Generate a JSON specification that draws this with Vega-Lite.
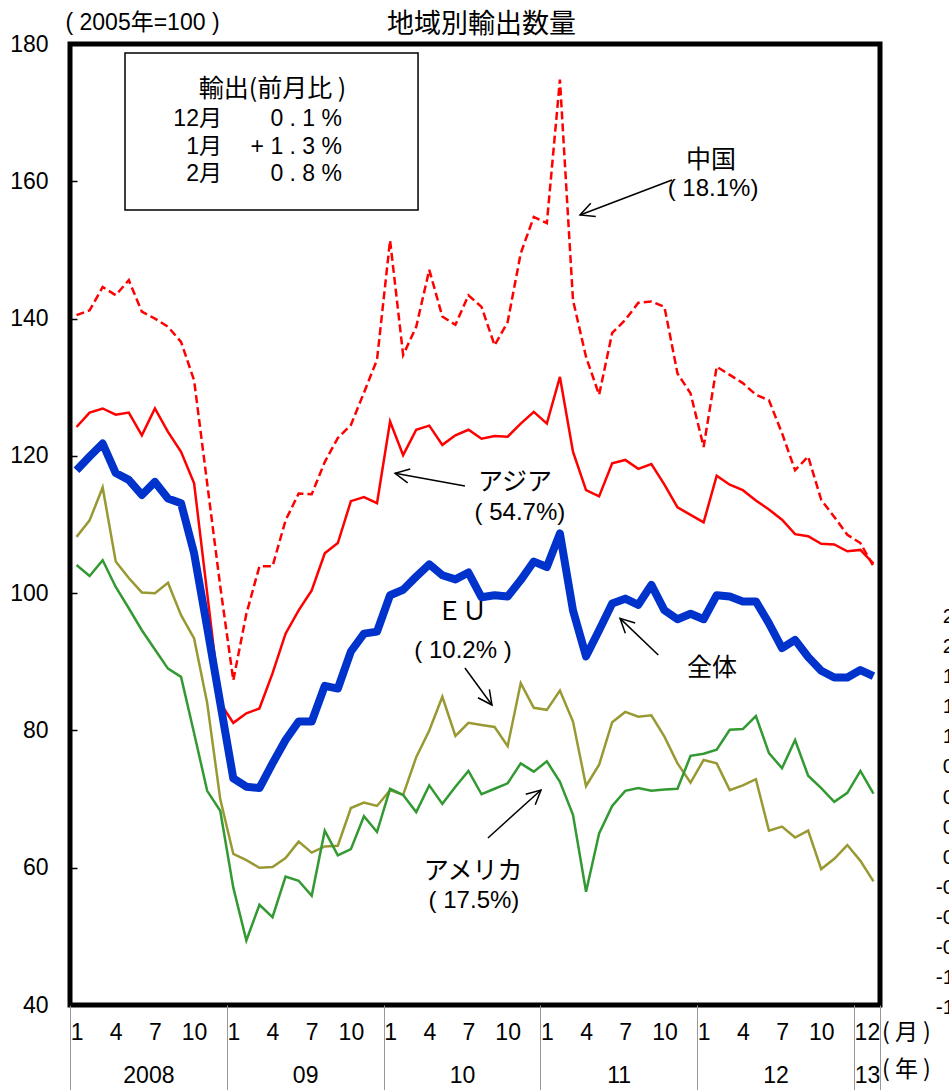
{
  "$schema": "https://vega.github.io/schema/vega-lite/v6.json",
  "width": 810,
  "height": 961,
  "autosize": {"type": "none"},
  "padding": {"left": 70, "top": 44, "right": 69, "bottom": 85},
  "background": "white",
  "config": {
    "view": {"stroke": "black", "strokeWidth": 5},
    "axis": {"grid": false, "domain": false, "labelColor": "black", "title": null}
  },
  "datasets": {
    "series": [
      {"t":0,"total":117.9,"asia":124.2,"china":140.5,"eu":108.2,"us":104.1},
      {"t":1,"total":119.9,"asia":126.3,"china":141.2,"eu":110.6,"us":102.5},
      {"t":2,"total":121.8,"asia":126.9,"china":144.6,"eu":115.4,"us":104.8},
      {"t":3,"total":117.5,"asia":126.0,"china":143.4,"eu":104.6,"us":100.9},
      {"t":4,"total":116.5,"asia":126.3,"china":145.6,"eu":102.2,"us":97.8},
      {"t":5,"total":114.3,"asia":123.0,"china":141.0,"eu":100.1,"us":94.6},
      {"t":6,"total":116.2,"asia":126.9,"china":140.0,"eu":100.0,"us":91.8},
      {"t":7,"total":113.8,"asia":123.5,"china":138.8,"eu":101.5,"us":89.0},
      {"t":8,"total":113.1,"asia":120.6,"china":136.6,"eu":96.8,"us":87.8},
      {"t":9,"total":105.8,"asia":116.0,"china":131.0,"eu":93.4,"us":79.6},
      {"t":10,"total":95.0,"asia":100.0,"china":116.0,"eu":84.0,"us":71.2},
      {"t":11,"total":84.0,"asia":84.0,"china":101.0,"eu":70.0,"us":68.3},
      {"t":12,"total":73.0,"asia":81.1,"china":87.3,"eu":62.0,"us":57.1},
      {"t":13,"total":71.8,"asia":82.5,"china":97.0,"eu":61.1,"us":49.4},
      {"t":14,"total":71.6,"asia":83.2,"china":103.9,"eu":60.0,"us":54.6},
      {"t":15,"total":75.2,"asia":88.3,"china":103.9,"eu":60.1,"us":52.8},
      {"t":16,"total":78.6,"asia":94.1,"china":110.6,"eu":61.4,"us":58.7},
      {"t":17,"total":81.3,"asia":97.5,"china":114.5,"eu":63.8,"us":58.1},
      {"t":18,"total":81.3,"asia":100.4,"china":114.4,"eu":62.2,"us":55.9},
      {"t":19,"total":86.5,"asia":105.8,"china":119.1,"eu":63.1,"us":65.4},
      {"t":20,"total":86.1,"asia":107.3,"china":122.6,"eu":63.2,"us":61.8},
      {"t":21,"total":91.5,"asia":113.4,"china":124.5,"eu":68.7,"us":62.7},
      {"t":22,"total":94.1,"asia":114.0,"china":129.2,"eu":69.5,"us":67.5},
      {"t":23,"total":94.4,"asia":113.1,"china":134.0,"eu":69.0,"us":65.2},
      {"t":24,"total":99.7,"asia":125.0,"china":151.4,"eu":71.3,"us":71.5},
      {"t":25,"total":100.5,"asia":120.1,"china":134.7,"eu":70.6,"us":70.6},
      {"t":26,"total":102.4,"asia":123.8,"china":138.8,"eu":76.1,"us":68.1},
      {"t":27,"total":104.2,"asia":124.4,"china":147.1,"eu":80.0,"us":72.0},
      {"t":28,"total":102.6,"asia":121.6,"china":140.3,"eu":84.9,"us":69.3},
      {"t":29,"total":102.0,"asia":123.0,"china":139.1,"eu":79.2,"us":71.8},
      {"t":30,"total":103.0,"asia":123.8,"china":143.4,"eu":81.1,"us":74.1},
      {"t":31,"total":99.4,"asia":122.5,"china":141.7,"eu":80.8,"us":70.7},
      {"t":32,"total":99.7,"asia":122.9,"china":136.1,"eu":80.5,"us":71.5},
      {"t":33,"total":99.5,"asia":122.8,"china":139.5,"eu":77.7,"us":72.3},
      {"t":34,"total":101.9,"asia":124.7,"china":149.5,"eu":86.9,"us":75.2},
      {"t":35,"total":104.6,"asia":126.4,"china":154.8,"eu":83.3,"us":74.0},
      {"t":36,"total":103.8,"asia":124.7,"china":153.9,"eu":83.0,"us":75.5},
      {"t":37,"total":108.7,"asia":131.5,"china":174.8,"eu":85.8,"us":72.5},
      {"t":38,"total":97.5,"asia":120.6,"china":142.7,"eu":81.3,"us":67.7},
      {"t":39,"total":90.8,"asia":115.0,"china":134.4,"eu":71.9,"us":56.5},
      {"t":40,"total":94.6,"asia":114.1,"china":128.9,"eu":75.0,"us":65.0},
      {"t":41,"total":98.5,"asia":118.9,"china":137.9,"eu":81.2,"us":69.0},
      {"t":42,"total":99.2,"asia":119.4,"china":139.8,"eu":82.7,"us":71.2},
      {"t":43,"total":98.3,"asia":118.1,"china":142.3,"eu":82.0,"us":71.6},
      {"t":44,"total":101.2,"asia":118.8,"china":142.5,"eu":82.2,"us":71.2},
      {"t":45,"total":97.5,"asia":115.8,"china":141.7,"eu":79.1,"us":71.4},
      {"t":46,"total":96.2,"asia":112.5,"china":132.0,"eu":75.2,"us":71.5},
      {"t":47,"total":97.0,"asia":111.4,"china":129.1,"eu":72.4,"us":76.3},
      {"t":48,"total":96.2,"asia":110.3,"china":121.3,"eu":75.7,"us":76.6},
      {"t":49,"total":99.7,"asia":117.1,"china":133.0,"eu":75.2,"us":77.2},
      {"t":50,"total":99.5,"asia":115.8,"china":131.8,"eu":71.3,"us":80.1},
      {"t":51,"total":98.8,"asia":115.0,"china":130.6,"eu":72.0,"us":80.2},
      {"t":52,"total":98.8,"asia":113.5,"china":128.9,"eu":72.9,"us":82.1},
      {"t":53,"total":95.6,"asia":112.2,"china":128.1,"eu":65.4,"us":76.7},
      {"t":54,"total":92.0,"asia":110.7,"china":123.3,"eu":66.0,"us":74.5},
      {"t":55,"total":93.2,"asia":108.6,"china":117.9,"eu":64.4,"us":78.6},
      {"t":56,"total":90.7,"asia":108.3,"china":119.9,"eu":65.4,"us":73.4},
      {"t":57,"total":88.7,"asia":107.2,"china":113.6,"eu":59.8,"us":71.6},
      {"t":58,"total":87.7,"asia":107.1,"china":111.1,"eu":61.3,"us":69.6},
      {"t":59,"total":87.7,"asia":106.1,"china":108.5,"eu":63.3,"us":70.9},
      {"t":60,"total":88.8,"asia":106.3,"china":107.3,"eu":61.0,"us":74.1},
      {"t":61,"total":87.9,"asia":104.3,"china":103.9,"eu":58.0,"us":70.8}
    ],
    "arrows": [
      {"id":"china","t":45.58,"v":160.19,"t2":38.54,"v2":155.09},
      {"id":"asia","t":29.73,"v":115.6,"t2":24.38,"v2":117.45},
      {"id":"eu","t":29.73,"v":89.09,"t2":31.8,"v2":83.7},
      {"id":"total","t":44.53,"v":90.98,"t2":41.6,"v2":96.33},
      {"id":"us","t":31.49,"v":64.33,"t2":35.55,"v2":71.32}
    ],
    "names": [
      {"t":48.56,"v":163.1,"label":"中国"},
      {"t":33.56,"v":116.19,"label":"アジア"},
      {"t":29.5,"v":97.25,"label":"ＥＵ"},
      {"t":48.64,"v":89.09,"label":"全体"},
      {"t":30.35,"v":59.52,"label":"アメリカ"}
    ],
    "shares": [
      {"t":48.72,"v":158.88,"label":"( 18.1%)"},
      {"t":33.94,"v":111.67,"label":"( 54.7%)"},
      {"t":29.58,"v":91.57,"label":"( 10.2% )"},
      {"t":30.42,"v":55.14,"label":"( 17.5%)"}
    ],
    "boxrows": [
      {"t":11.13,"v":169.07,"label":"12月"},
      {"t":20.32,"v":169.07,"label":"0 . 1 %"},
      {"t":11.13,"v":164.99,"label":"1月"},
      {"t":20.32,"v":164.99,"label":"+ 1 . 3 %"},
      {"t":11.13,"v":161.06,"label":"2月"},
      {"t":20.32,"v":161.06,"label":"0 . 8 %"}
    ],
    "sidelabels": [
      {"t":68.54,"v":96.52,"label":"2.4"},
      {"t":68.54,"v":92.14,"label":"2.1"},
      {"t":68.54,"v":87.75,"label":"1.8"},
      {"t":68.54,"v":83.37,"label":"1.5"},
      {"t":68.54,"v":78.98,"label":"1.2"},
      {"t":68.54,"v":74.6,"label":"0.9"},
      {"t":68.54,"v":70.21,"label":"0.6"},
      {"t":68.54,"v":65.83,"label":"0.3"},
      {"t":68.54,"v":61.44,"label":"0.0"},
      {"t":68.54,"v":57.06,"label":"-0.3"},
      {"t":68.54,"v":52.67,"label":"-0.6"},
      {"t":68.54,"v":48.29,"label":"-0.9"},
      {"t":68.54,"v":43.9,"label":"-1.2"},
      {"t":68.54,"v":39.52,"label":"-1.5"}
    ]
  },
  "data": {"name": "series"},
  "layer": [
    {
      "mark": {"type": "line", "color": "#FF0000", "strokeWidth": 2.5, "strokeDash": [8, 4]},
      "encoding": {
        "x": {"field": "t", "type": "quantitative", "scale": {"domain": [-0.5, 61.5], "nice": false, "zero": false},
          "axis": {"orient": "bottom", "values": [0,3,6,9,12,15,18,21,24,27,30,33,36,39,42,45,48,51,54,57,60,61],
            "labelExpr": "(datum.value % 12) + 1", "ticks": false, "domain": false, "grid": false, "title": null,
            "labelPadding": 27, "labelBaseline": "middle", "labelFont": "Liberation Sans, sans-serif",
            "labelFontSize": 23, "labelOverlap": false, "labelFlush": false, "labelBound": false, "labelColor": "black"}},
        "y": {"field": "china", "type": "quantitative", "scale": {"domain": [40, 180], "nice": false, "zero": false},
          "axis": {"orient": "left", "values": [40,60,80,100,120,140,160,180], "ticks": false,
            "labelPadding": 22, "labelFont": "Liberation Sans, sans-serif", "labelFontSize": 23,
            "labelOverlap": false, "labelFlush": false, "labelBound": false, "labelBaseline": "middle", "labelAlign": "right", "title": null, "domain": false, "grid": false, "labelColor": "black"}}
      }
    },
    {
      "mark": {"type": "line", "color": "#FF0000", "strokeWidth": 2.5},
      "encoding": {
        "x": {"field": "t", "type": "quantitative", "scale": {"domain": [-0.5, 61.5], "nice": false, "zero": false},
          "axis": {"orient": "bottom", "values": [-0.5, 11.5, 23.5, 35.5, 47.5, 59.5, 61.5], "labels": false,
            "ticks": true, "tickSize": 85, "tickColor": "#999999", "tickWidth": 1, "domain": false, "grid": false, "title": null}},
        "y": {"field": "asia", "type": "quantitative", "scale": {"domain": [40, 180], "nice": false, "zero": false},
          "axis": {"orient": "left", "values": [40,60,80,100,120,140,160,180], "labels": false, "ticks": true, "tickSize": -7, "tickColor": "black", "tickWidth": 1.5, "domain": false, "grid": false, "title": null}}
      }
    },
    {
      "mark": {"type": "line", "color": "#999933", "strokeWidth": 2.5},
      "encoding": {
        "x": {"field": "t", "type": "quantitative", "scale": {"domain": [-0.5, 61.5], "nice": false, "zero": false},
          "axis": {"orient": "bottom", "values": [5.5, 17.5, 29.5, 41.5, 53.5, 60.5],
            "labelExpr": "datum.value < 6 ? '2008' : datum.value < 18 ? '09' : datum.value < 30 ? '10' : datum.value < 42 ? '11' : datum.value < 54 ? '12' : '13'",
            "ticks": false, "domain": false, "grid": false, "title": null, "labelPadding": 70, "labelBaseline": "middle",
            "labelFont": "Liberation Sans, sans-serif", "labelFontSize": 23,
            "labelOverlap": false, "labelFlush": false, "labelBound": false, "labelColor": "black"}},
        "y": {"field": "eu", "type": "quantitative", "scale": {"domain": [40, 180], "nice": false, "zero": false}, "axis": null}
      }
    },
    {
      "mark": {"type": "line", "color": "#339933", "strokeWidth": 2.5},
      "encoding": {
        "x": {"field": "t", "type": "quantitative", "scale": {"domain": [-0.5, 61.5], "nice": false, "zero": false}, "axis": null},
        "y": {"field": "us", "type": "quantitative", "scale": {"domain": [40, 180], "nice": false, "zero": false}, "axis": null}
      }
    },
    {
      "mark": {"type": "line", "color": "#0033CC", "strokeWidth": 8, "strokeJoin": "round"},
      "encoding": {
        "x": {"field": "t", "type": "quantitative", "scale": {"domain": [-0.5, 61.5], "nice": false, "zero": false}, "axis": null},
        "y": {"field": "total", "type": "quantitative", "scale": {"domain": [40, 180], "nice": false, "zero": false}, "axis": null}
      }
    },
    {
      "data": {"values": [{"t": 3.71, "t2": 26.14, "v": 178.69, "v2": 155.82}]},
      "mark": {"type": "rect", "fill": "white", "stroke": "black", "strokeWidth": 1.5},
      "encoding": {
        "x": {"field": "t", "type": "quantitative", "scale": {"domain": [-0.5, 61.5], "nice": false, "zero": false}, "axis": null},
        "x2": {"field": "t2"},
        "y": {"field": "v", "type": "quantitative", "scale": {"domain": [40, 180], "nice": false, "zero": false}, "axis": null},
        "y2": {"field": "v2"}
      }
    },
    {
      "data": {"values": [{"t": 15.0, "v": 173.44, "label": "輸出(前月比 )"}]},
      "mark": {"type": "text", "font": "Noto Sans CJK JP", "fontSize": 25, "align": "center", "baseline": "middle", "color": "black"},
      "encoding": {
        "x": {"field": "t", "type": "quantitative", "scale": {"domain": [-0.5, 61.5], "nice": false, "zero": false}, "axis": null},
        "y": {"field": "v", "type": "quantitative", "scale": {"domain": [40, 180], "nice": false, "zero": false}, "axis": null},
        "text": {"field": "label"}
      }
    },
    {
      "data": {"name": "boxrows"},
      "mark": {"type": "text", "font": "Liberation Sans, Noto Sans CJK JP", "fontSize": 23, "align": "right", "baseline": "middle", "color": "black"},
      "encoding": {
        "x": {"field": "t", "type": "quantitative", "scale": {"domain": [-0.5, 61.5], "nice": false, "zero": false}, "axis": null},
        "y": {"field": "v", "type": "quantitative", "scale": {"domain": [40, 180], "nice": false, "zero": false}, "axis": null},
        "text": {"field": "label"}
      }
    },
    {
      "data": {"name": "names"},
      "mark": {"type": "text", "font": "Noto Sans CJK JP", "fontSize": 25, "align": "center", "baseline": "middle", "color": "black"},
      "encoding": {
        "x": {"field": "t", "type": "quantitative", "scale": {"domain": [-0.5, 61.5], "nice": false, "zero": false}, "axis": null},
        "y": {"field": "v", "type": "quantitative", "scale": {"domain": [40, 180], "nice": false, "zero": false}, "axis": null},
        "text": {"field": "label"}
      }
    },
    {
      "data": {"name": "shares"},
      "mark": {"type": "text", "font": "Liberation Sans, Noto Sans CJK JP", "fontSize": 24, "align": "center", "baseline": "middle", "color": "black"},
      "encoding": {
        "x": {"field": "t", "type": "quantitative", "scale": {"domain": [-0.5, 61.5], "nice": false, "zero": false}, "axis": null},
        "y": {"field": "v", "type": "quantitative", "scale": {"domain": [40, 180], "nice": false, "zero": false}, "axis": null},
        "text": {"field": "label"}
      }
    },
    {
      "data": {"values": [
        {"t": 30.99, "v": 182.8, "label": "地域別輸出数量"}
      ]},
      "mark": {"type": "text", "font": "Noto Sans CJK JP", "fontSize": 27, "align": "center", "baseline": "middle", "color": "black"},
      "encoding": {
        "x": {"field": "t", "type": "quantitative", "scale": {"domain": [-0.5, 61.5], "nice": false, "zero": false}, "axis": null},
        "y": {"field": "v", "type": "quantitative", "scale": {"domain": [40, 180], "nice": false, "zero": false}, "axis": null},
        "text": {"field": "label"}
      }
    },
    {
      "data": {"values": [
        {"t": 5.05, "v": 183.0, "label": "( 2005年=100 )"}
      ]},
      "mark": {"type": "text", "font": "Liberation Sans, Noto Sans CJK JP", "fontSize": 23, "align": "center", "baseline": "middle", "color": "black"},
      "encoding": {
        "x": {"field": "t", "type": "quantitative", "scale": {"domain": [-0.5, 61.5], "nice": false, "zero": false}, "axis": null},
        "y": {"field": "v", "type": "quantitative", "scale": {"domain": [40, 180], "nice": false, "zero": false}, "axis": null},
        "text": {"field": "label"}
      }
    },
    {
      "data": {"values": [
        {"t": 61.65, "v": 35.91, "label": "( 月 )"},
        {"t": 61.65, "v": 30.53, "label": "( 年 )"}
      ]},
      "mark": {"type": "text", "font": "Noto Sans CJK JP", "fontSize": 23, "align": "left", "baseline": "middle", "color": "black"},
      "encoding": {
        "x": {"field": "t", "type": "quantitative", "scale": {"domain": [-0.5, 61.5], "nice": false, "zero": false}, "axis": null},
        "y": {"field": "v", "type": "quantitative", "scale": {"domain": [40, 180], "nice": false, "zero": false}, "axis": null},
        "text": {"field": "label"}
      }
    },
    {
      "data": {"name": "sidelabels"},
      "mark": {"type": "text", "font": "Liberation Sans", "fontSize": 21, "align": "right", "baseline": "middle", "color": "black"},
      "encoding": {
        "x": {"field": "t", "type": "quantitative", "scale": {"domain": [-0.5, 61.5], "nice": false, "zero": false}, "axis": null},
        "y": {"field": "v", "type": "quantitative", "scale": {"domain": [40, 180], "nice": false, "zero": false}, "axis": null},
        "text": {"field": "label"}
      }
    },
    {
      "data": {"name": "arrows"},
      "mark": {"type": "rule", "color": "black", "strokeWidth": 1.5},
      "encoding": {
        "x": {"field": "t", "type": "quantitative", "scale": {"domain": [-0.5, 61.5], "nice": false, "zero": false}, "axis": null},
        "x2": {"field": "t2"},
        "y": {"field": "v", "type": "quantitative", "scale": {"domain": [40, 180], "nice": false, "zero": false}, "axis": null},
        "y2": {"field": "v2"}
      }
    },
    {
      "data": {"name": "arrows"},
      "transform": [{"filter": "datum.id === 'china'"}],
      "mark": {"type": "point", "shape": "M-1,-0.5L0,0L-1,0.5", "filled": false, "stroke": "black", "strokeWidth": 1.5, "size": 800, "angle": 159.2, "opacity": 1},
      "encoding": {
        "x": {"field": "t2", "type": "quantitative", "scale": {"domain": [-0.5, 61.5], "nice": false, "zero": false}, "axis": null},
        "y": {"field": "v2", "type": "quantitative", "scale": {"domain": [40, 180], "nice": false, "zero": false}, "axis": null}
      }
    },
    {
      "data": {"name": "arrows"},
      "transform": [{"filter": "datum.id === 'asia'"}],
      "mark": {"type": "point", "shape": "M-1,-0.5L0,0L-1,0.5", "filled": false, "stroke": "black", "strokeWidth": 1.5, "size": 800, "angle": 190.3, "opacity": 1},
      "encoding": {
        "x": {"field": "t2", "type": "quantitative", "scale": {"domain": [-0.5, 61.5], "nice": false, "zero": false}, "axis": null},
        "y": {"field": "v2", "type": "quantitative", "scale": {"domain": [40, 180], "nice": false, "zero": false}, "axis": null}
      }
    },
    {
      "data": {"name": "arrows"},
      "transform": [{"filter": "datum.id === 'eu'"}],
      "mark": {"type": "point", "shape": "M-1,-0.5L0,0L-1,0.5", "filled": false, "stroke": "black", "strokeWidth": 1.5, "size": 800, "angle": 53.9, "opacity": 1},
      "encoding": {
        "x": {"field": "t2", "type": "quantitative", "scale": {"domain": [-0.5, 61.5], "nice": false, "zero": false}, "axis": null},
        "y": {"field": "v2", "type": "quantitative", "scale": {"domain": [40, 180], "nice": false, "zero": false}, "axis": null}
      }
    },
    {
      "data": {"name": "arrows"},
      "transform": [{"filter": "datum.id === 'total'"}],
      "mark": {"type": "point", "shape": "M-1,-0.5L0,0L-1,0.5", "filled": false, "stroke": "black", "strokeWidth": 1.5, "size": 800, "angle": 223.8, "opacity": 1},
      "encoding": {
        "x": {"field": "t2", "type": "quantitative", "scale": {"domain": [-0.5, 61.5], "nice": false, "zero": false}, "axis": null},
        "y": {"field": "v2", "type": "quantitative", "scale": {"domain": [40, 180], "nice": false, "zero": false}, "axis": null}
      }
    },
    {
      "data": {"name": "arrows"},
      "transform": [{"filter": "datum.id === 'us'"}],
      "mark": {"type": "point", "shape": "M-1,-0.5L0,0L-1,0.5", "filled": false, "stroke": "black", "strokeWidth": 1.5, "size": 800, "angle": 317.8, "opacity": 1},
      "encoding": {
        "x": {"field": "t2", "type": "quantitative", "scale": {"domain": [-0.5, 61.5], "nice": false, "zero": false}, "axis": null},
        "y": {"field": "v2", "type": "quantitative", "scale": {"domain": [40, 180], "nice": false, "zero": false}, "axis": null}
      }
    }
  ],
  "resolve": {"axis": {"x": "independent", "y": "independent"}}
}
